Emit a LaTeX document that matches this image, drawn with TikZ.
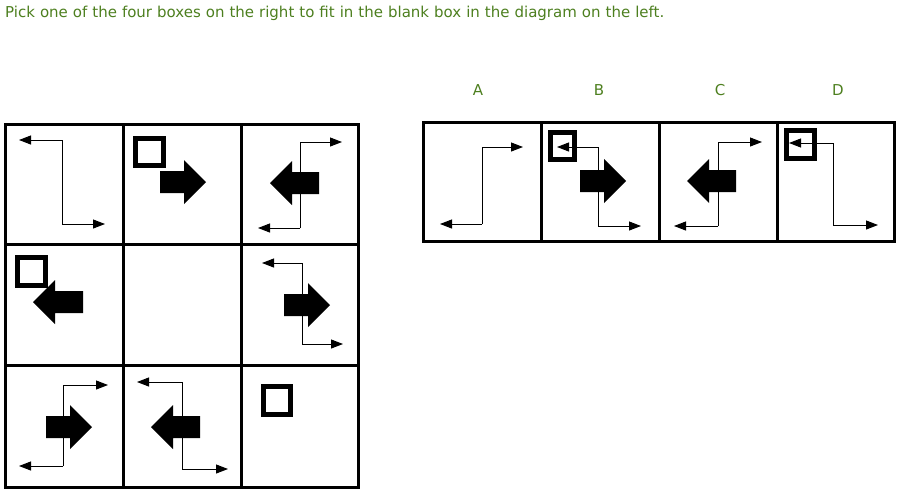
\documentclass[tikz,border=0pt]{standalone}
\usepackage{fontspec}
\setmainfont{DejaVu Sans}
\usetikzlibrary{arrows.meta}
\definecolor{qgreen}{HTML}{4D7F1F}
\tikzset{thin line/.style={line width=1pt,-{Triangle[length=12pt,width=9pt]}},
 frame/.style={line width=3pt},
 sq/.style={line width=5pt},
 lab/.style={text=qgreen,font=\fontsize{15}{18}\selectfont}}
\newcommand\bigR[3]{\fill (#1,{#3-11}) -- ({#2-22},{#3-11}) -- ({#2-22},{#3-22}) -- (#2,#3) -- ({#2-22},{#3+22}) -- ({#2-22},{#3+11}) -- (#1,{#3+11}) -- cycle;}
\newcommand\bigL[3]{\fill (#2,{#3-11}) -- ({#1+22},{#3-11}) -- ({#1+22},{#3-22}) -- (#1,#3) -- ({#1+22},{#3+22}) -- ({#1+22},{#3+11}) -- (#2,{#3+11}) -- cycle;}
% zig type1: left tip, corner x, right tip, top y, bottom y
\newcommand\zigA[5]{\draw[thin line] (#2,#4) -- (#1,#4); \draw[thin line] (#2,#4) -- (#2,#5) -- (#3,#5);}
% zig type2: left tip, corner x, right tip, top y, bottom y
\newcommand\zigB[5]{\draw[thin line] (#2,#5) -- (#1,#5); \draw[thin line] (#2,#5) -- (#2,#4) -- (#3,#4);}
\newcommand\sqbox[4]{\draw[sq] ({#1+2.5},{#2+2.5}) rectangle ({#3-2.5},{#4-2.5});}
\begin{document}
\begin{tikzpicture}[x=1pt,y=-1pt]
\useasboundingbox (0,0) rectangle (923,493);
\node[lab,anchor=north west,align=left,text width=920pt,inner sep=0pt] (title) at (5,6)
 {Pick one of the four boxes on the right to fit in the blank box in the diagram on the left.};
\node[lab] (la) at (478,90) {A};
\node[lab] (lb) at (599,90) {B};
\node[lab] (lc) at (720,90) {C};
\node[lab] (ld) at (838,90) {D};
% grid
\draw[frame] (5,124) rectangle (358,487);
\draw[frame] (123,124) -- (123,487) (241,124) -- (241,487) (5,244) -- (358,244) (5,365) -- (358,365);
\draw[frame] (423,122) rectangle (894,241);
\draw[frame] (541,122) -- (541,241) (659,122) -- (659,241) (777,122) -- (777,241);
% row 1
\zigA{19}{62}{105}{140}{224}
\sqbox{133}{136}{166}{168}
\bigR{160}{206}{182}
\bigL{270}{319}{183}
\zigB{258}{300}{342}{142}{228}
% row 2
\sqbox{15}{255}{48}{288}
\bigL{33}{83}{302}
\bigR{284}{330}{305}
\zigA{262}{302}{343}{263}{344}
% row 3
\bigR{46}{92}{427}
\zigB{19}{63}{108}{385}{466}
\bigL{151}{200}{427}
\zigA{137}{182}{228}{382}{469}
\sqbox{261}{384}{293}{417}
% options
\zigB{440}{482}{523}{147}{224}
\sqbox{548}{130}{577}{162}
\bigR{580}{626}{181}
\zigA{557}{598}{641}{147}{226}
\bigL{687}{736}{181}
\zigB{674}{718}{762}{142}{226}
\sqbox{784}{128}{817}{161}
\zigA{789}{833}{878}{143}{225}
\end{tikzpicture}
\end{document}
